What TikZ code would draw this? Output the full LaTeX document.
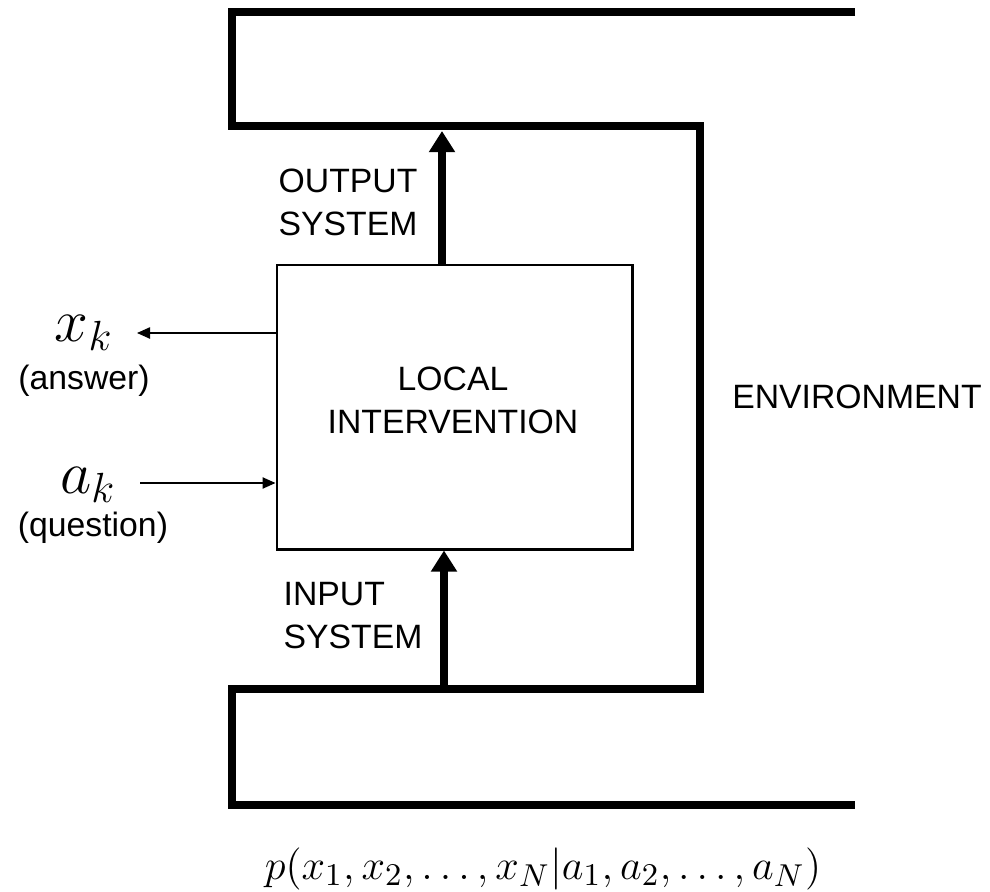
\documentclass[tikz,border=0pt]{standalone}
\usepackage{fontspec}
\newfontfamily\helv{Liberation Sans}
\usetikzlibrary{arrows.meta}

\begin{document}
\begin{tikzpicture}[
  wall/.style={line width=2.55pt},
  lbl/.style={font=\helv\fontsize{9.6}{12.2}\selectfont, inner sep=0pt},
  locbox/.style={draw, line width=0.85pt, minimum width=3.55cm, minimum height=2.84cm},
  bigarr/.style={line width=2.27pt, -{Triangle[length=6pt,width=7.1pt]}},
  thinarr/.style={line width=0.45pt, -{Triangle[length=3.7pt,width=3.2pt]}},
  mth/.style={font=\fontsize{17}{20}\selectfont, inner sep=0pt},
]
\useasboundingbox (0,0) rectangle (9.9,-8.92);

\draw [wall] (8.55,-0.12) -- (2.32,-0.12) -- (2.32,-1.26) -- (7.00,-1.26) -- (7.00,-6.89) -- (2.32,-6.89) -- (2.32,-8.05) -- (8.55,-8.05);

\node [locbox] (local) at (4.545,-4.07) {};
\node [lbl, align=center] (loctxt) at (4.53,-4.00) {LOCAL\\INTERVENTION};

\node [lbl, align=left, anchor=west] (outsys) at (2.78,-2.025) {OUTPUT\\SYSTEM};
\node [lbl, align=left, anchor=west] (insys) at (2.83,-6.155) {INPUT\\SYSTEM};
\node [lbl] (env) at (8.57,-3.97) {ENVIRONMENT};

\coordinate (outtip) at (4.42,-1.31);
\coordinate (inbase) at (4.44,-6.89);
\draw [bigarr] (outtip |- local.north) -- (outtip);
\draw [bigarr] (inbase) -- (inbase |- local.south);

\node [mth] (xk) at (0.84,-3.33) {$x_k$};
\node [lbl] (ans) at (0.84,-3.81) {(answer)};
\node [mth] (ak) at (0.88,-4.85) {$a_k$};
\node [lbl] (ques) at (0.93,-5.28) {(question)};

\coordinate (ansend) at (1.37,-3.33);
\coordinate (qstart) at (1.40,-4.83);
\draw [thinarr] (ansend -| local.west) -- (ansend);
\draw [thinarr] (qstart) -- (qstart -| local.west);

\node [font=\fontsize{13.2}{16}\selectfont, inner sep=0pt] (joint) at (5.43,-8.69) {$p(x_1,x_2,\ldots,x_N|a_1,a_2,\ldots,a_N)$};

\end{tikzpicture}
\end{document}
